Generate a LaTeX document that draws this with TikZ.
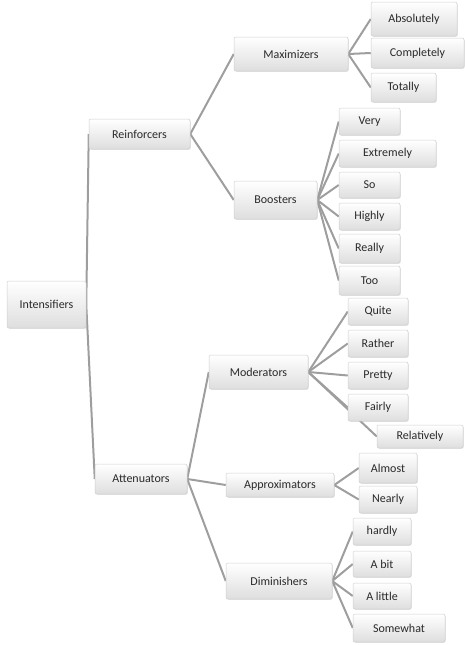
\documentclass[tikz,border=0pt]{standalone}
\usepackage{fontspec}
\setmainfont{Carlito}
\usetikzlibrary{backgrounds,shadows}
\definecolor{edgegray}{HTML}{9E9E9E}
\definecolor{boxline}{HTML}{CFCFCF}
\definecolor{boxbot}{HTML}{DEDEDE}
\definecolor{txt}{HTML}{2A2A2A}
\tikzset{
  wbox/.style={draw=boxline, line width=0.5pt, rounded corners=2pt,
    top color=white, bottom color=boxbot, text=txt, font=\fontsize{12}{14}\selectfont,
    inner sep=0pt, drop shadow={shadow xshift=0.8pt, shadow yshift=-0.8pt, opacity=0.2}},
  link/.style={draw=edgegray, line width=2pt}
}
\newcommand{\mkbox}[6]{%
  \node[wbox, minimum width={(#3-#2)*1pt}, minimum height={(#5-#4)*1pt}]
    (#1) at ({(#2+#3)/2},{(#4+#5)/2}) {#6};}
\begin{document}
\begin{tikzpicture}[x=1pt,y=-1pt]
\useasboundingbox (0,0) rectangle (464,645);
\mkbox{int}{7}{86}{281}{328}{Intensifiers}
\mkbox{rei}{89}{190}{119}{149}{Reinforcers}
\mkbox{att}{95}{187}{464}{494}{Attenuators}
\mkbox{max}{234}{348}{37}{71}{Maximizers}
\mkbox{boo}{234}{317}{181}{219}{Boosters}
\mkbox{mod}{209}{308}{355}{389}{Moderators}
\mkbox{app}{226}{334}{473}{497}{Approximators}
\mkbox{dim}{226}{332}{563}{599}{Diminishers}
\mkbox{abs}{371}{457}{2}{36}{Absolutely}
\mkbox{com}{371}{464}{38}{68}{Completely}
\mkbox{tot}{371}{436}{73}{102}{Totally}
\mkbox{ver}{339}{400}{108}{135}{Very}
\mkbox{ext}{339}{436}{140}{167}{Extremely}
\mkbox{so}{339}{400}{172}{198}{So}
\mkbox{hig}{339}{400}{203}{230}{Highly}
\mkbox{rea}{339}{400}{234}{263}{Really}
\mkbox{too}{339}{400}{266}{295}{Too}
\mkbox{qui}{348}{408}{298}{325}{Quite}
\mkbox{rat}{348}{408}{330}{357}{Rather}
\mkbox{pre}{348}{408}{362}{389}{Pretty}
\mkbox{fai}{348}{408}{394}{421}{Fairly}
\mkbox{rel}{377}{463}{425}{448}{Relatively}
\mkbox{alm}{359}{417}{453}{483}{Almost}
\mkbox{nea}{359}{417}{486}{513}{Nearly}
\mkbox{har}{353}{411}{518}{545}{hardly}
\mkbox{bit}{353}{411}{551}{577}{A bit}
\mkbox{lit}{353}{411}{583}{609}{A little}
\mkbox{som}{353}{445}{614}{642}{Somewhat}
\begin{scope}[on background layer]
\foreach \a/\b in {int/rei,int/att,rei/max,rei/boo,att/mod,att/app,att/dim,
  max/abs,max/com,max/tot,boo/ver,boo/ext,boo/so,boo/hig,boo/rea,boo/too,
  mod/qui,mod/rat,mod/pre,mod/fai,mod/rel,app/alm,app/nea,
  dim/har,dim/bit,dim/lit,dim/som}
  \draw[link] (\a.east) -- (\b.west);
\end{scope}
\end{tikzpicture}
\end{document}
